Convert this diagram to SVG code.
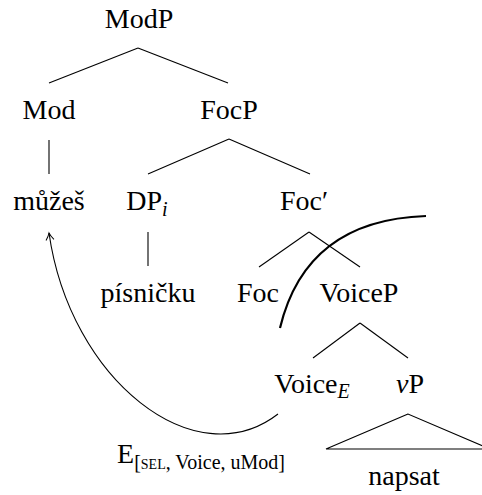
<svg xmlns="http://www.w3.org/2000/svg" width="482" height="495" viewBox="0 0 482 495">
<style>
text{font-family:"Liberation Serif","Times New Roman",serif;font-size:28px;fill:#000;text-anchor:middle}
.sub{font-size:20px}
.it{font-style:italic}
.l{stroke:#000;stroke-width:1.1;fill:none}
.thick{stroke:#000;stroke-width:2.2;fill:none}
</style>
<defs>
<marker id="ah" markerWidth="12" markerHeight="12" refX="10" refY="6" orient="auto" markerUnits="userSpaceOnUse">
<path d="M3,2 Q7,5 10,6 Q7,7 3,10" fill="none" stroke="#000" stroke-width="1"/>
</marker>
</defs>
<g id="connectors">
<line class="l" x1="138" y1="48" x2="49" y2="83"/>
<line class="l" x1="138" y1="48" x2="228" y2="83"/>
<line class="l" x1="49" y1="140" x2="49" y2="174"/>
<line class="l" x1="229" y1="139" x2="148" y2="174"/>
<line class="l" x1="229" y1="139" x2="310" y2="174"/>
<line class="l" x1="148" y1="232" x2="148" y2="266"/>
<line class="l" x1="309" y1="232" x2="259" y2="267"/>
<line class="l" x1="309" y1="232" x2="360" y2="267"/>
<line class="l" x1="360" y1="323" x2="313" y2="358"/>
<line class="l" x1="360" y1="323" x2="408" y2="358"/>
<path class="l" d="M408,414 L326,449 L490,449 Z"/>
<path class="thick" d="M280,328 Q306,220 426,216"/>
<path class="l" d="M278,414 C195,478 70,380 49,233" marker-end="url(#ah)"/>
</g>
<g id="ModP"><text x="139" y="28">ModP</text></g>
<g id="Mod"><text x="49" y="119">Mod</text></g>
<g id="FocP"><text x="229" y="119">FocP</text></g>
<g id="muzes"><text x="49" y="210">můžeš</text></g>
<g id="DPi"><text x="147" y="210">DP<tspan class="sub it" dy="6">i</tspan></text></g>
<g id="Focbar"><text x="304" y="210">Foc′</text></g>
<g id="pisnicku"><text x="148" y="302">písničku</text></g>
<g id="Foc"><text x="258" y="302">Foc</text></g>
<g id="VoiceP"><text x="359" y="302">VoiceP</text></g>
<g id="VoiceE"><text x="312" y="393">Voice<tspan class="sub it" dy="5">E</tspan></text></g>
<g id="vP"><text x="410" y="393"><tspan class="it">v</tspan>P</text></g>
<g id="napsat"><text x="404" y="485">napsat</text></g>
<g id="Efeat"><text x="201" y="463">E<tspan class="sub" dy="6">[<tspan style="font-variant:small-caps">sel</tspan>, Voice, uMod]</tspan></text></g>
</svg>
